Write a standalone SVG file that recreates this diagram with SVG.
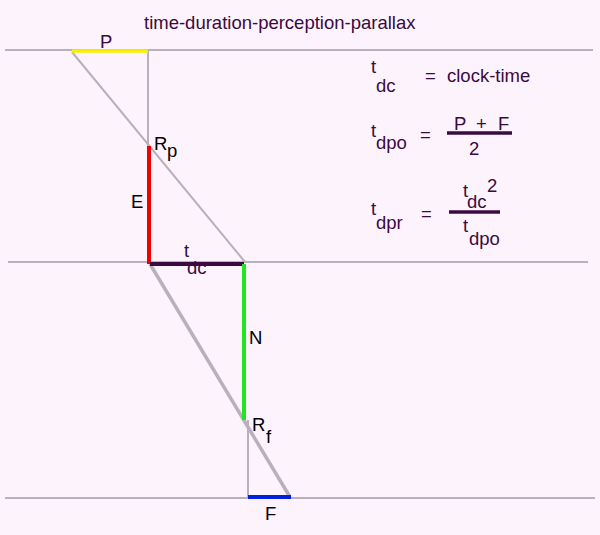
<svg xmlns="http://www.w3.org/2000/svg" width="600" height="535" viewBox="0 0 600 535">
<style>
text{font-family:"Liberation Sans",Arial,sans-serif;font-size:18.5px;fill:#3a0a40}
.k{fill:#000}
.g{stroke:#b9b0bd;stroke-width:2;fill:none}
.bar{stroke:#3a0a40;stroke-width:3.5}
</style>
<rect width="600" height="535" fill="#fdf3fd"/>
<text x="144" y="29">time-duration-perception-parallax</text>
<g id="connectors">
<line class="g" x1="5" y1="50" x2="593" y2="50"/>
<line class="g" x1="8" y1="262" x2="588" y2="262"/>
<line class="g" x1="5" y1="498" x2="595" y2="498"/>
<line class="g" x1="148" y1="50" x2="148" y2="146"/>
<line class="g" x1="72" y1="52" x2="245" y2="262"/>
<line class="g" x1="248" y1="420" x2="248" y2="497"/>
<line class="g" style="stroke-width:3.5" x1="150" y1="264" x2="290" y2="497"/>
</g>
<g id="P"><line x1="72" y1="51" x2="148" y2="51" stroke="#f8f000" stroke-width="3.5"/><text x="100" y="48">P</text></g>
<g id="E"><line x1="149" y1="146" x2="149" y2="264" stroke="#f00000" stroke-width="4"/><text class="k" x="131" y="208">E</text></g>
<g id="Rp"><text class="k" x="154" y="150">R</text><text class="k" x="167" y="157">p</text></g>
<g id="tdc"><line x1="150" y1="264" x2="244" y2="264" stroke="#3a0a40" stroke-width="4"/><text x="184" y="257">t</text><text x="187" y="274">dc</text></g>
<g id="N"><line x1="244" y1="264" x2="244" y2="420" stroke="#22e622" stroke-width="4"/><text class="k" x="249" y="344">N</text></g>
<g id="Rf"><text class="k" x="252" y="431">R</text><text class="k" x="266" y="443">f</text></g>
<g id="F"><line x1="248" y1="497" x2="291" y2="497" stroke="#0022e0" stroke-width="4"/><text class="k" x="265" y="520">F</text></g>
<g id="formula-dc">
<text x="371" y="73">t</text><text x="376" y="92">dc</text>
<text x="425" y="82">=</text><text x="447" y="82">clock-time</text>
</g>
<g id="formula-dpo">
<text x="371" y="137">t</text><text x="376" y="149">dpo</text>
<text x="420" y="141">=</text>
<text x="454" y="130">P</text><text x="476" y="130">+</text><text x="498" y="130">F</text>
<line class="bar" x1="447" y1="133" x2="512" y2="133"/>
<text x="469" y="155">2</text>
</g>
<g id="formula-dpr">
<text x="371" y="215">t</text><text x="376" y="229">dpr</text>
<text x="421" y="220">=</text>
<text x="463" y="197">t</text><text x="467" y="208">dc</text><text x="487" y="192">2</text>
<line class="bar" x1="449" y1="212" x2="500" y2="212"/>
<text x="463" y="232">t</text><text x="469" y="245">dpo</text>
</g>
</svg>
